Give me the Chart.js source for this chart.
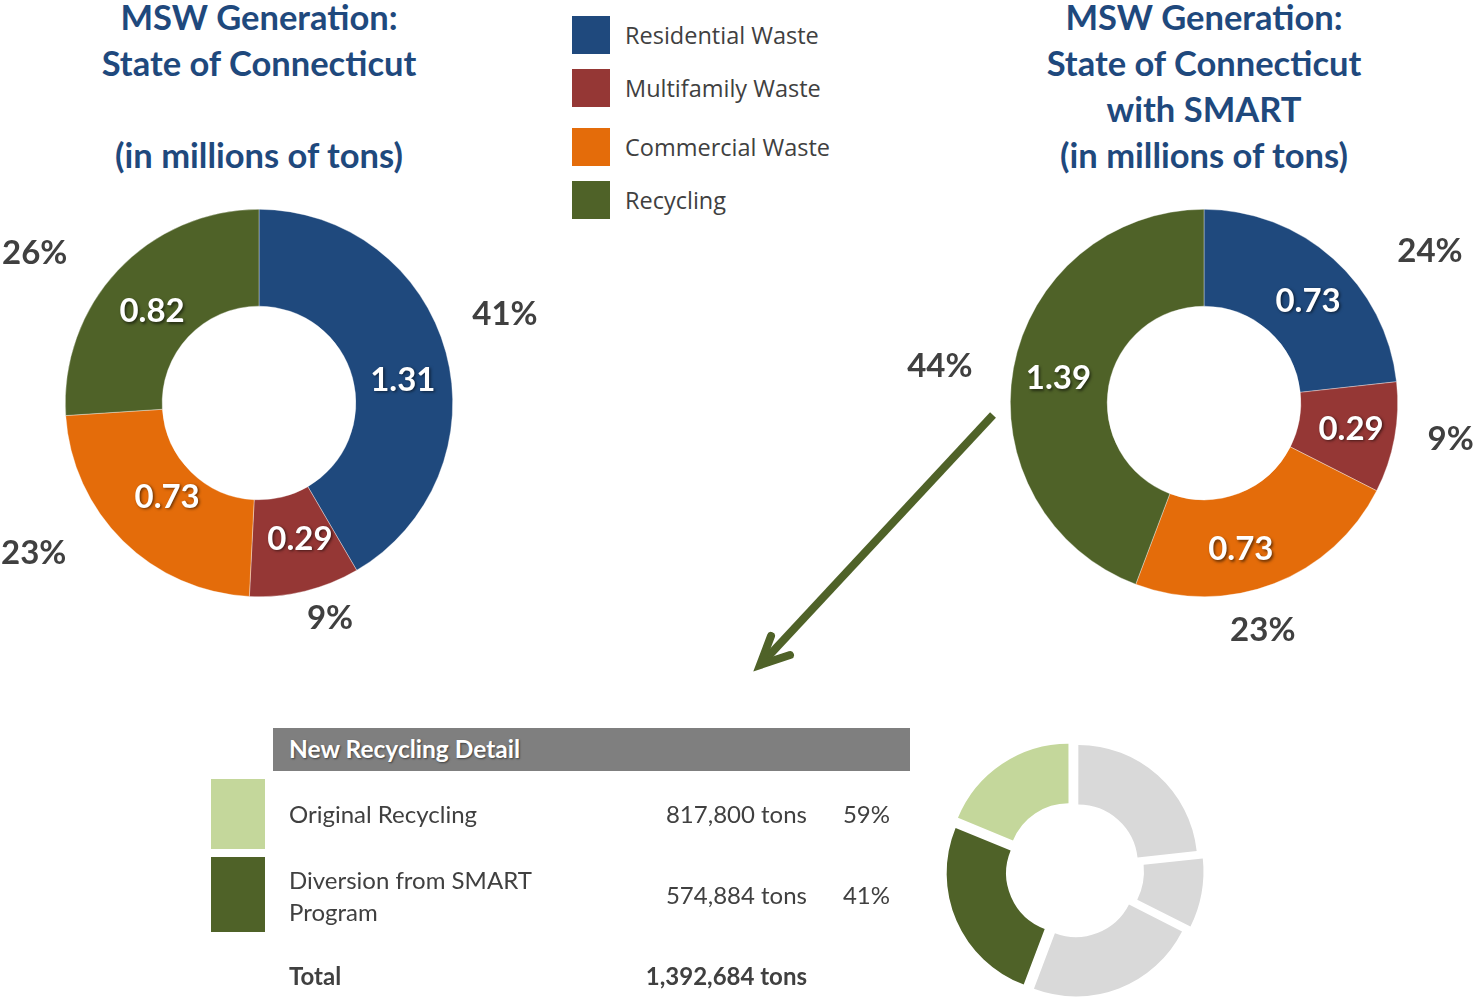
<!DOCTYPE html>
<html>
<head>
<meta charset="utf-8">
<script src="https://cdn.jsdelivr.net/npm/chart.js@4.4.1/dist/chart.umd.min.js"></script>
<style>
  html, body { margin: 0; padding: 0; background: #fff; overflow: hidden; }
  body { width: 1476px; height: 997px; position: relative; font-family: Lato, sans-serif; color: #404040; }
  .abs { position: absolute; }
  .title { color: #1f497d; font-weight: bold; font-size: 34.5px; line-height: 46px; text-align: center; width: 560px; }
  .legend-item { position: absolute; left: 572px; height: 38px; font-family: "Open Sans", sans-serif; font-size: 23.5px; line-height: 38px; white-space: nowrap; }
  .legend-item span { display: inline-block; width: 38px; height: 38px; vertical-align: top; margin-right: 15px; }
  .tbl { font-size: 24px; }
  .right { text-align: right; }
</style>
</head>
<body>

<div class="abs title" style="left:-21px; top:-6px;">MSW Generation:<br>State of Connecticut<br>&nbsp;<br>(in millions of tons)</div>
<div class="abs title" style="left:924px; top:-6px;">MSW Generation:<br>State of Connecticut<br>with SMART<br>(in millions of tons)</div>

<div id="legend"></div>

<canvas id="leftChart" class="abs" style="left:0; top:180px;"></canvas>
<canvas id="rightChart" class="abs" style="left:900px; top:180px;"></canvas>
<canvas id="detailChart" class="abs" style="left:930px; top:730px;"></canvas>

<svg class="abs" style="left:0; top:0;" width="1476" height="997">
  <line x1="993" y1="415" x2="763" y2="662" stroke="#4f6228" stroke-width="8"/>
  <polyline points="771,636 760,665 790,655" fill="none" stroke="#4f6228" stroke-width="8" stroke-linecap="round" stroke-linejoin="miter"/>
</svg>

<div class="abs" style="left:273px; top:728px; width:637px; height:43px; background:#7f7f7f;"></div>
<div class="abs" style="left:289px; top:734px; color:#fff; font-weight:bold; font-size:24.5px; text-shadow:1px 1px 2px rgba(0,0,0,0.5);">New Recycling Detail</div>
<div id="detailRows"></div>

<script>
// categories & values (millions of tons)
const categories = ["Residential Waste", "Multifamily Waste", "Commercial Waste", "Recycling"];
const colors = ["#1f497d", "#953735", "#e46c0a", "#4f6228"];

const baseValues = [1.31, 0.29, 0.73, 0.82];
const basePercent = ["41%", "9%", "23%", "26%"];

const smartValues = [0.73, 0.29, 0.73, 1.39];
const smartPercent = ["24%", "9%", "23%", "44%"];

// recycling detail
const detailNames = ["Original Recycling", "Diversion from SMART Program"];
const detailTons = ["817,800 tons", "574,884 tons"];
const detailPercent = ["59%", "41%"];
const detailTotal = "1,392,684 tons";
const detailColors = ["#c4d79b", "#4f6228"];

// small exploded ring: three grey waste slices + two recycling parts
const ringValues = [0.73, 0.29, 0.73, 0.80, 0.59];
const ringColors = ["#d9d9d9", "#d9d9d9", "#d9d9d9", "#4f6228", "#c4d79b"];

// legend
const legendTops = [16, 69, 128, 181];
const legendDiv = document.getElementById("legend");
categories.forEach((c, i) => {
  const d = document.createElement("div");
  d.className = "legend-item";
  d.style.top = legendTops[i] + "px";
  d.innerHTML = `<span style="background:${colors[i]}"></span>${c}`;
  legendDiv.appendChild(d);
});

// table rows
const rowsDiv = document.getElementById("detailRows");
rowsDiv.innerHTML = `
  <div class="abs" style="left:211px; top:779px; width:54px; height:70px; background:${detailColors[0]}"></div>
  <div class="abs" style="left:211px; top:857px; width:54px; height:75px; background:${detailColors[1]}"></div>
  <div class="abs tbl" style="left:289px; top:799px;">${detailNames[0]}</div>
  <div class="abs tbl" style="left:289px; top:864px; width:290px; line-height:32px;">${detailNames[1].replace(" Program", "<br>Program")}</div>
  <div class="abs tbl right" style="left:557px; width:250px; top:799px;">${detailTons[0]}</div>
  <div class="abs tbl right" style="left:557px; width:250px; top:880px;">${detailTons[1]}</div>
  <div class="abs tbl right" style="left:790px; width:100px; top:799px;">${detailPercent[0]}</div>
  <div class="abs tbl right" style="left:790px; width:100px; top:880px;">${detailPercent[1]}</div>
  <div class="abs tbl" style="left:289px; top:961px; font-weight:bold;">Total</div>
  <div class="abs tbl right" style="left:557px; width:250px; top:961px; font-weight:bold;">${detailTotal}</div>
`;

// draws the value inside each slice and the percentage outside it
const sliceLabels = {
  id: "sliceLabels",
  afterDatasetsDraw(chart, args, opts) {
    if (!opts.percent) return;
    const ctx = chart.ctx;
    const meta = chart.getDatasetMeta(0);
    const values = chart.data.datasets[0].data;
    const deg = Math.PI / 180;
    ctx.save();
    ctx.textAlign = "center";
    ctx.textBaseline = "middle";
    ctx.font = "bold 33px Lato";
    meta.data.forEach((arc, i) => {
      const p = arc.getProps(["x", "y", "startAngle", "endAngle"], true);
      const mid = (p.startAngle + p.endAngle) / 2;
      const va = mid + opts.valueShift[i] * deg;
      const vr = opts.valueRadius[i];
      ctx.fillStyle = "#fff";
      ctx.shadowColor = "rgba(0,0,0,0.55)";
      ctx.shadowBlur = 3;
      ctx.shadowOffsetX = 1.5;
      ctx.shadowOffsetY = 1.5;
      ctx.fillText(values[i].toFixed(2), p.x + vr * Math.cos(va), p.y + vr * Math.sin(va) + 2);
      ctx.shadowColor = "transparent";
      const a = mid + opts.shift[i] * deg;
      const r = opts.radius[i];
      ctx.fillStyle = "#404040";
      ctx.fillText(opts.percent[i], p.x + r * Math.cos(a), p.y + r * Math.sin(a) + 2);
    });
    ctx.restore();
  }
};

function makeDoughnut(id, values, percent, w, h, pad, labelOpts) {
  const cv = document.getElementById(id);
  cv.width = w; cv.height = h;
  cv.style.width = w + "px"; cv.style.height = h + "px";
  return new Chart(cv, {
    type: "doughnut",
    data: {
      labels: categories,
      datasets: [{ data: values, backgroundColor: colors, borderWidth: 0.6, borderColor: "rgba(255,255,255,0.6)" }]
    },
    options: {
      responsive: false,
      animation: false,
      cutout: "50%",
      layout: { padding: pad },
      plugins: {
        legend: { display: false },
        tooltip: { enabled: false },
        sliceLabels: Object.assign({ percent: percent }, labelOpts)
      }
    },
    plugins: [sliceLabels]
  });
}

makeDoughnut("leftChart", baseValues, basePercent, 570, 480,
  { left: 65, right: 117, top: 29, bottom: 63 },
  { shift: [-5, -4.7, 12, -9], radius: [262, 225, 270, 271],
    valueShift: [5.3, -3.3, 0.4, -2], valueRadius: [146, 140, 130, 142] });

makeDoughnut("rightChart", smartValues, smartPercent, 576, 480,
  { left: 110, right: 78, top: 29, bottom: 63 },
  { shift: [14, -2.5, 6.6, -2], radius: [273, 249, 233, 267],
    valueShift: [3.2, -1, 6.9, 0], valueRadius: [147, 149, 149, 148] });

// small exploded ring (arc offset is drawn at a quarter of its value)
const dc = document.getElementById("detailChart");
dc.width = 290; dc.height = 290;
dc.style.width = "290px"; dc.style.height = "290px";
new Chart(dc, {
  type: "doughnut",
  data: {
    labels: ["Residential", "Multifamily", "Commercial", "Recycling A", "Recycling B"],
    datasets: [{ data: ringValues, backgroundColor: ringColors, borderWidth: 0, offset: 32 }]
  },
  options: {
    responsive: false,
    animation: false,
    cutout: "50%",
    layout: { padding: { left: 8, right: 12, top: 5, bottom: 15 } },
    plugins: { legend: { display: false }, tooltip: { enabled: false } }
  }
});
</script>
</body>
</html>
